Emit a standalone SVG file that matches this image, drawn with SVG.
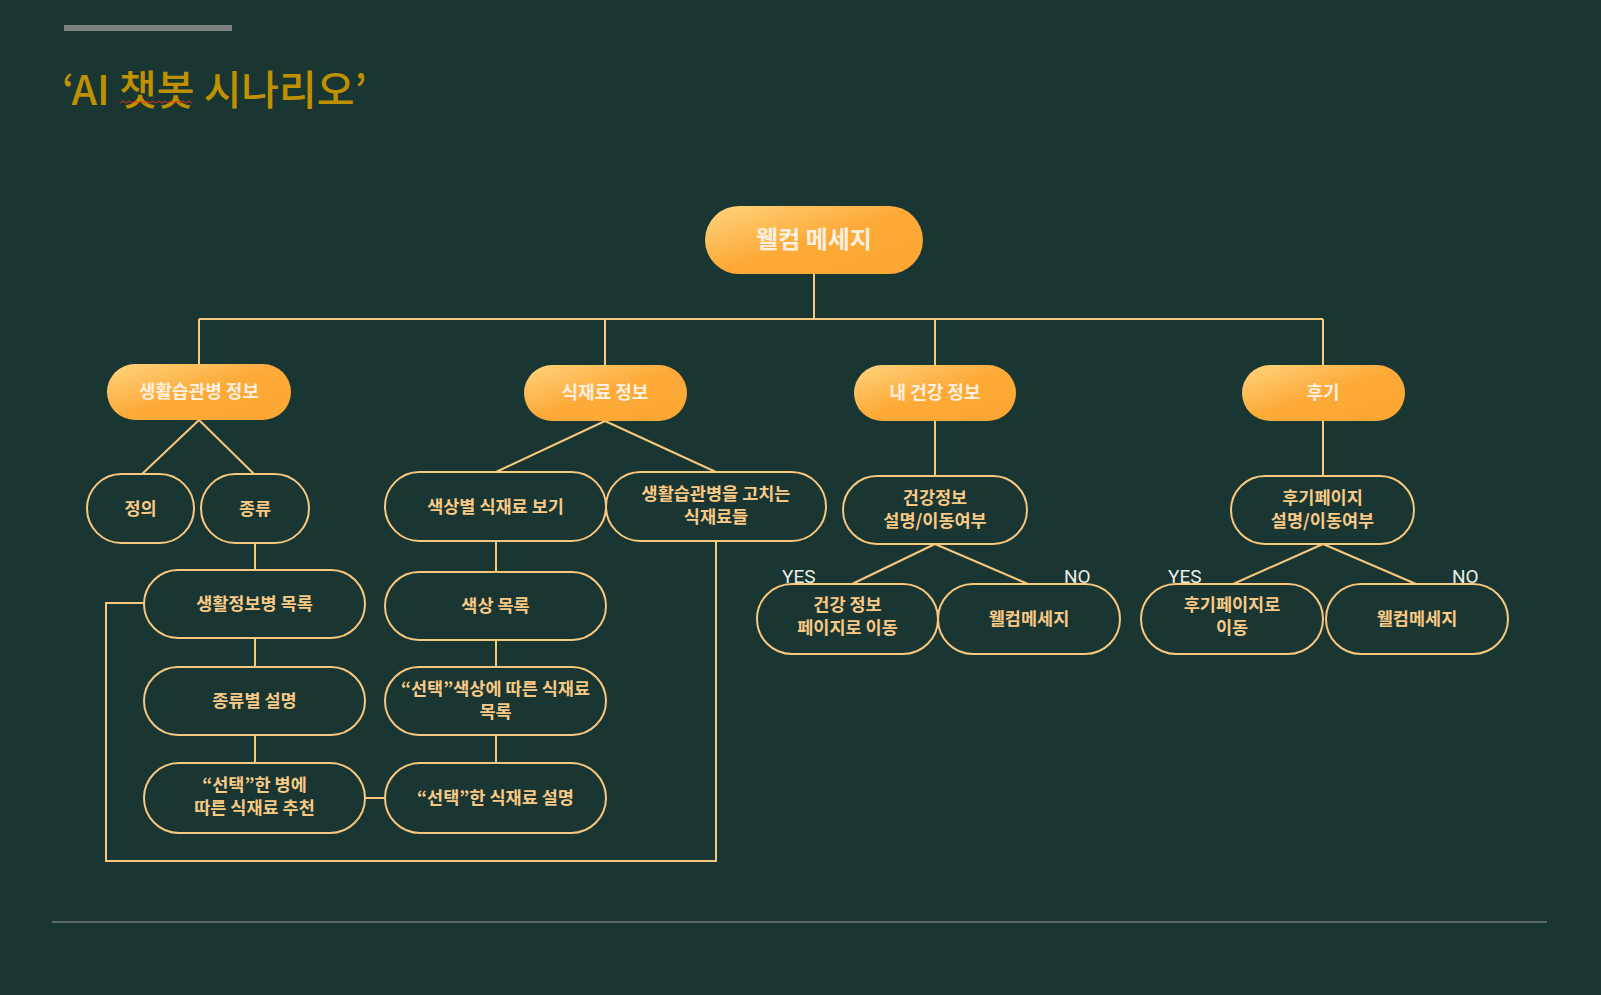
<svg xmlns="http://www.w3.org/2000/svg" width="1601" height="995" viewBox="0 0 1601 995">
<defs>
<linearGradient id="g" x1="0" y1="0" x2="1" y2="1">
<stop offset="0" stop-color="#ffd47e"/>
<stop offset="0.5" stop-color="#fdaa38"/>
<stop offset="1" stop-color="#fca633"/>
</linearGradient>
<style>
.bg{fill:#1a3632}
.main rect{fill:url(#g)}
.main text{fill:#fcf0e0;font-family:"Noto Sans CJK KR","Noto Sans",sans-serif;font-weight:bold;font-size:18px;text-anchor:middle}
.sub rect{fill:none;stroke:#f9c77d;stroke-width:2}
.sub text{fill:#f9ca86;font-family:"Noto Sans CJK KR","Noto Sans",sans-serif;font-weight:bold;font-size:17.5px;text-anchor:middle}
.conn line,.conn polyline{stroke:#f9c77d;stroke-width:2;fill:none}
.yn{fill:#e8efe6;font-family:Roboto,"Noto Sans",sans-serif;font-size:19px}
</style>
</defs>
<rect class="bg" x="0" y="0" width="1601" height="995"/>
<rect x="64" y="25" width="168" height="6" fill="#7f7f7f"/>
<text x="62" y="105" fill="#bf9000" font-family="'Noto Sans CJK KR','Noto Sans',sans-serif" font-weight="500" font-size="41">‘AI 챗봇 시나리오’</text>
<path d="M120 103 l3 -2 l3 2 l3 -2 l3 2 l3 -2 l3 2 l3 -2 l3 2 l3 -2 l3 2 l3 -2 l3 2 l3 -2 l3 2 l3 -2 l3 2 l3 -2 l3 2 l3 -2 l3 2 l3 -2 l3 2 l3 -2 l3 2" fill="none" stroke="#e03020" stroke-width="1"/>
<line x1="52" y1="922" x2="1547" y2="922" stroke="#9a9a9a" stroke-width="1"/>

<g class="conn" id="connectors">
<line x1="814" y1="274" x2="814" y2="319"/>
<line x1="199" y1="319" x2="1323" y2="319"/>
<line x1="199" y1="319" x2="199" y2="364"/>
<line x1="605" y1="319" x2="605" y2="365"/>
<line x1="935" y1="319" x2="935" y2="365"/>
<line x1="1323" y1="319" x2="1323" y2="365"/>
<line x1="199" y1="420" x2="142" y2="474"/>
<line x1="199" y1="420" x2="254" y2="474"/>
<line x1="605" y1="421" x2="496" y2="472"/>
<line x1="605" y1="421" x2="716" y2="472"/>
<line x1="935" y1="421" x2="935" y2="476"/>
<line x1="935" y1="544" x2="852" y2="584"/>
<line x1="935" y1="544" x2="1028" y2="584"/>
<line x1="1323" y1="421" x2="1323" y2="476"/>
<line x1="1323" y1="544" x2="1233" y2="584"/>
<line x1="1323" y1="544" x2="1416" y2="584"/>
<line x1="255" y1="543" x2="255" y2="570"/>
<line x1="255" y1="638" x2="255" y2="667"/>
<line x1="255" y1="735" x2="255" y2="763"/>
<line x1="496" y1="541" x2="496" y2="572"/>
<line x1="496" y1="640" x2="496" y2="667"/>
<line x1="496" y1="735" x2="496" y2="763"/>
<line x1="365" y1="798" x2="385" y2="798"/>
<polyline points="144,603 106,603 106,861 716,861 716,541"/>
</g>

<g id="n-welcome" class="main"><rect x="705" y="206" width="218" height="68" rx="34"/><text x="814" y="248" style="font-size:24px">웰컴 메세지</text></g>
<g id="n-disease" class="main"><rect x="107" y="364" width="184" height="56" rx="28"/><text x="199" y="398">생활습관병 정보</text></g>
<g id="n-food" class="main"><rect x="524" y="365" width="163" height="56" rx="28"/><text x="605" y="399">식재료 정보</text></g>
<g id="n-health" class="main"><rect x="854" y="365" width="162" height="56" rx="28"/><text x="935" y="399">내 건강 정보</text></g>
<g id="n-review" class="main"><rect x="1242" y="365" width="163" height="56" rx="28"/><text x="1323" y="399">후기</text></g>

<g id="n-def" class="sub"><rect x="87" y="474" width="107" height="69" rx="34.5"/><text x="140.5" y="515">정의</text></g>
<g id="n-kind" class="sub"><rect x="201" y="474" width="108" height="69" rx="34.5"/><text x="255" y="515">종류</text></g>
<g id="n-color" class="sub"><rect x="385" y="472" width="221" height="69" rx="34.5"/><text x="495.5" y="513">색상별 식재료 보기</text></g>
<g id="n-cure" class="sub"><rect x="606" y="472" width="220" height="69" rx="34.5"/><text x="716" y="500">생활습관병을 고치는</text><text x="716" y="523">식재료들</text></g>
<g id="n-hinfo" class="sub"><rect x="843" y="476" width="184" height="68" rx="34"/><text x="935" y="504">건강정보</text><text x="935" y="527">설명/이동여부</text></g>
<g id="n-rinfo" class="sub"><rect x="1231" y="476" width="183" height="68" rx="34"/><text x="1322.5" y="504">후기페이지</text><text x="1322.5" y="527">설명/이동여부</text></g>

<g id="n-hgo" class="sub"><rect x="757" y="584" width="181" height="70" rx="35"/><text x="847.5" y="611">건강 정보</text><text x="847.5" y="634">페이지로 이동</text></g>
<g id="n-hno" class="sub"><rect x="938" y="584" width="182" height="70" rx="35"/><text x="1029" y="625">웰컴메세지</text></g>
<g id="n-rgo" class="sub"><rect x="1141" y="584" width="182" height="70" rx="35"/><text x="1232" y="611">후기페이지로</text><text x="1232" y="634">이동</text></g>
<g id="n-rno" class="sub"><rect x="1326" y="584" width="182" height="70" rx="35"/><text x="1417" y="625">웰컴메세지</text></g>

<text class="yn" x="782" y="583">YES</text>
<text class="yn" x="1064" y="583">NO</text>
<text class="yn" x="1168" y="583">YES</text>
<text class="yn" x="1452" y="583">NO</text>

<g id="n-dlist" class="sub"><rect x="144" y="570" width="221" height="68" rx="34"/><text x="254.5" y="610">생활정보병 목록</text></g>
<g id="n-ddesc" class="sub"><rect x="144" y="667" width="221" height="68" rx="34"/><text x="254.5" y="707">종류별 설명</text></g>
<g id="n-drec" class="sub"><rect x="144" y="763" width="221" height="70" rx="35"/><text x="254.5" y="791">“선택”한 병에</text><text x="254.5" y="814">따른 식재료 추천</text></g>
<g id="n-clist" class="sub"><rect x="385" y="572" width="221" height="68" rx="34"/><text x="495.5" y="612">색상 목록</text></g>
<g id="n-cfood" class="sub"><rect x="385" y="667" width="221" height="68" rx="34"/><text x="495.5" y="695">“선택”색상에 따른 식재료</text><text x="495.5" y="718">목록</text></g>
<g id="n-cdesc" class="sub"><rect x="385" y="763" width="221" height="70" rx="35"/><text x="495.5" y="804">“선택”한 식재료 설명</text></g>
</svg>
